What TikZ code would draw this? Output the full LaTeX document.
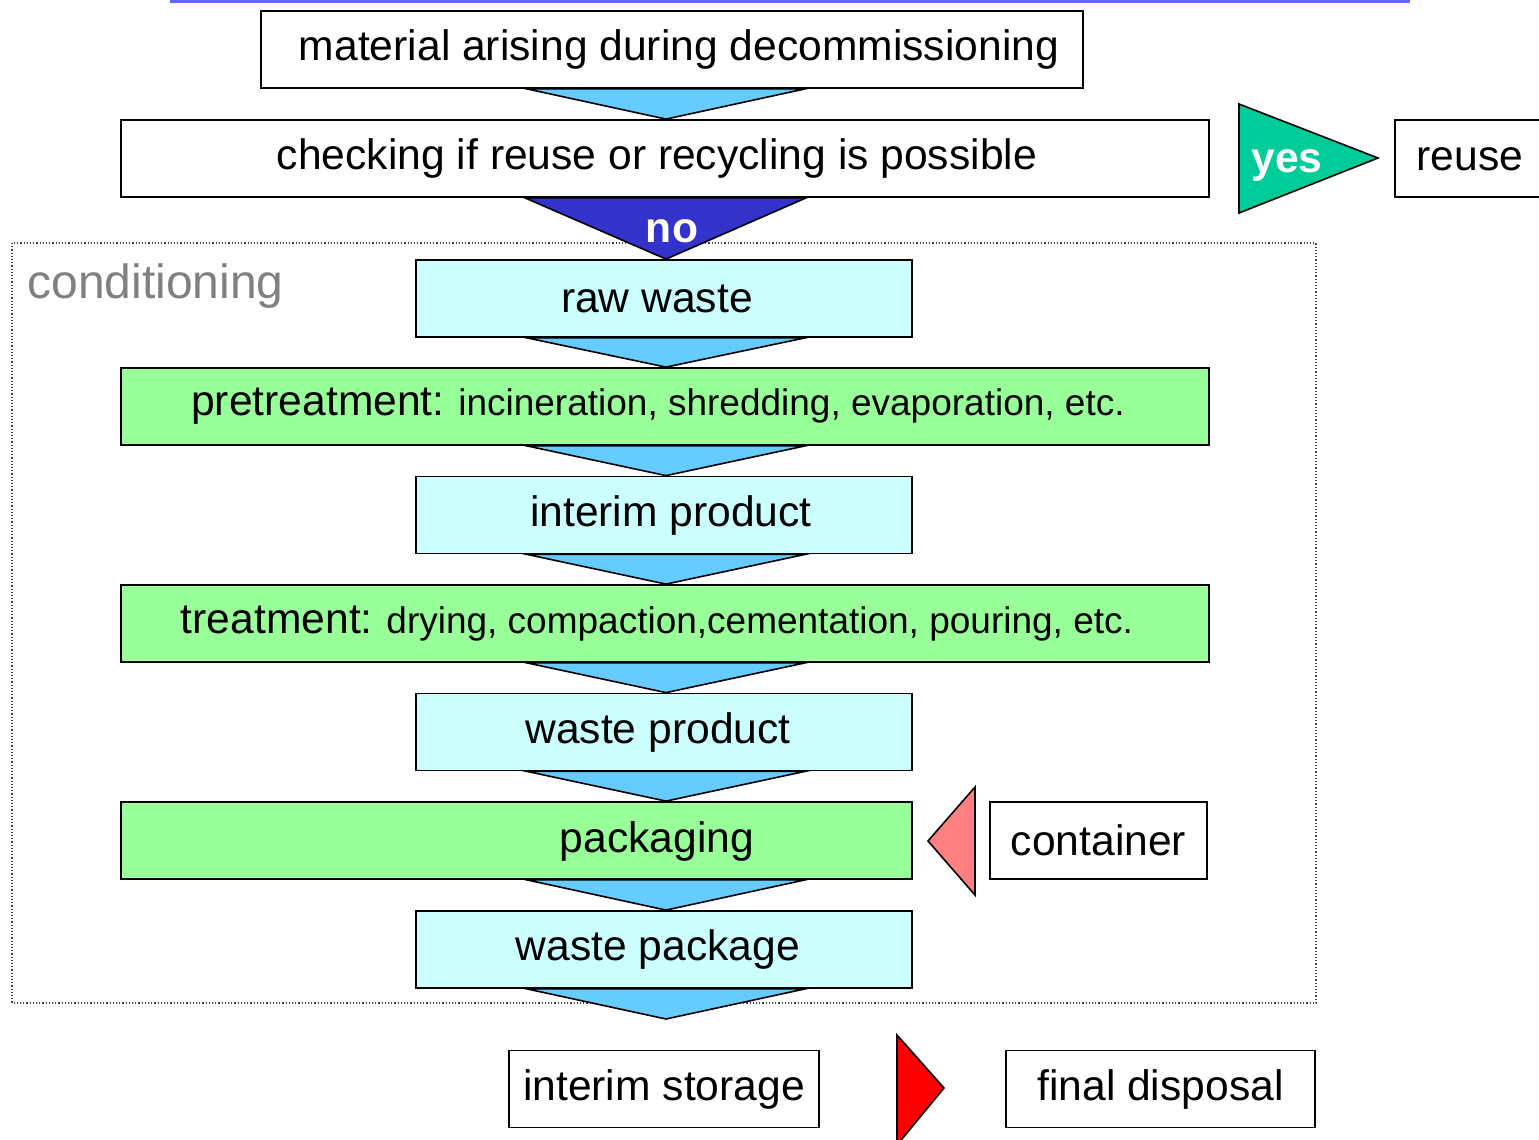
\documentclass[tikz,border=0pt]{standalone}
\usepackage{fontspec}
\setmainfont{Liberation Sans}
\usetikzlibrary{calc}
\definecolor{topblue}{HTML}{6666FF}
\definecolor{arrowblue}{HTML}{66CCFF}
\definecolor{noblue}{HTML}{3333CC}
\definecolor{yesgreen}{HTML}{00CC99}
\definecolor{cyanfill}{HTML}{CCFFFF}
\definecolor{greenfill}{HTML}{99FF99}
\definecolor{pinkfill}{HTML}{FF8080}
\definecolor{condgray}{HTML}{808080}
\newcommand\padd[1]{\hspace*{#1}}
\begin{document}
\begin{tikzpicture}[x=0.5pt,y=-0.5pt,
  box/.style={draw=black, line width=0.9pt, rectangle, inner sep=0pt, minimum height=38.5pt, fill=white, font=\fontsize{21.3}{25}\selectfont},
  cyanbox/.style={box, fill=cyanfill, minimum width=248pt},
  widebox/.style={box, fill=greenfill, minimum width=544pt},
  tri/.style={draw=black, line width=0.8pt, fill=arrowblue, line join=miter},
  lbl/.style={inner sep=0pt, font=\fontsize{21.3}{25}\selectfont},
]
\useasboundingbox (0,0) rectangle (1539,1140);
\coordinate (ax) at (666,0);
% top rule
\draw[topblue, line width=1.6pt] (170,1.5) -- (1410,1.5);
% conditioning frame
\draw[densely dotted, line width=0.6pt, black!75] (12,243) rectangle (1316,1003);
\node[anchor=west, inner sep=0pt, text=condgray, font=\fontsize{24}{28}\selectfont] (cond) at (27,286) {conditioning};
% boxes
\node[box, minimum width=411pt] (mat) at (672,49.5) {\padd{7pt}material arising during decommissioning};
\node[box, minimum width=544pt] (chk) at (665,158.5) {checking if reuse or recycling is possible\padd{8pt}};
\node[box, minimum width=80pt, anchor=west] (reuse) at (1394,158.5) {};
\node[lbl] (reusetxt) at (1470,159) {reuse};
\node[cyanbox] (raw) at (664,298.5) {raw waste\padd{7pt}};
\node[widebox] (pre) at (665,406.5) {pretreatment:{\fontsize{18.5}{22}\selectfont{} incineration, shredding, evaporation, etc.}\padd{7pt}};
\node[cyanbox] (inter) at (664,515) {\padd{7pt}interim product};
\node[widebox] (treat) at (665,623.5) {treatment:{\fontsize{18.5}{22}\selectfont{} drying, compaction,cementation, pouring, etc.}\padd{8pt}};
\node[cyanbox] (wprod) at (664,732) {waste product\padd{6pt}};
\node[box, fill=greenfill, minimum width=395.5pt] (pack) at (516.5,840.5) {};
\node[lbl] (packtxt) at (657,841) {packaging};
\node[box, minimum width=108.5pt] (cont) at (1098.5,840.5) {container};
\node[cyanbox] (wpack) at (664,949.5) {waste package\padd{6pt}};
\coordinate (endtip) at (666,1019);
\node[box, minimum width=155pt] (istor) at (664,1089) {interim storage};
\node[box, minimum width=154.5pt] (fdisp) at (1160.5,1089) {final disposal};
% flow triangles
\draw[tri] ($(ax |- mat.south)+(-139,0)$) -- ($(ax |- mat.south)+(139,0)$) -- (ax |- chk.north) -- cycle;
\draw[tri, fill=noblue] ($(ax |- chk.south)+(-141,0)$) -- ($(ax |- chk.south)+(140,0)$) -- (ax |- raw.north) -- cycle;
\node[inner sep=0pt, text=white, font=\bfseries\fontsize{21.3}{25}\selectfont] (no) at (672,231) {no};
\draw[tri] ($(ax |- raw.south)+(-139,0)$) -- ($(ax |- raw.south)+(139,0)$) -- (ax |- pre.north) -- cycle;
\draw[tri] ($(ax |- pre.south)+(-139,0)$) -- ($(ax |- pre.south)+(139,0)$) -- (ax |- inter.north) -- cycle;
\draw[tri] ($(ax |- inter.south)+(-139,0)$) -- ($(ax |- inter.south)+(139,0)$) -- (ax |- treat.north) -- cycle;
\draw[tri] ($(ax |- treat.south)+(-139,0)$) -- ($(ax |- treat.south)+(139,0)$) -- (ax |- wprod.north) -- cycle;
\draw[tri] ($(ax |- wprod.south)+(-139,0)$) -- ($(ax |- wprod.south)+(139,0)$) -- (ax |- pack.north) -- cycle;
\draw[tri] ($(ax |- pack.south)+(-139,0)$) -- ($(ax |- pack.south)+(139,0)$) -- (ax |- wpack.north) -- cycle;
\draw[tri] ($(ax |- wpack.south)+(-139,0)$) -- ($(ax |- wpack.south)+(139,0)$) -- (endtip) -- cycle;
% side arrows
\draw[tri, fill=yesgreen] (1239,104) -- (1378,158) -- (1239,213) -- cycle;
\node[inner sep=0pt, text=white, font=\bfseries\fontsize{21.3}{25}\selectfont] (yes) at (1287,165) {yes};
\draw[tri, fill=pinkfill] (975,787) -- (928,841) -- (975,895) -- cycle;
\draw[tri, fill=red] (897,1035) -- (944,1088) -- (897,1145) -- cycle;
\end{tikzpicture}
\end{document}
